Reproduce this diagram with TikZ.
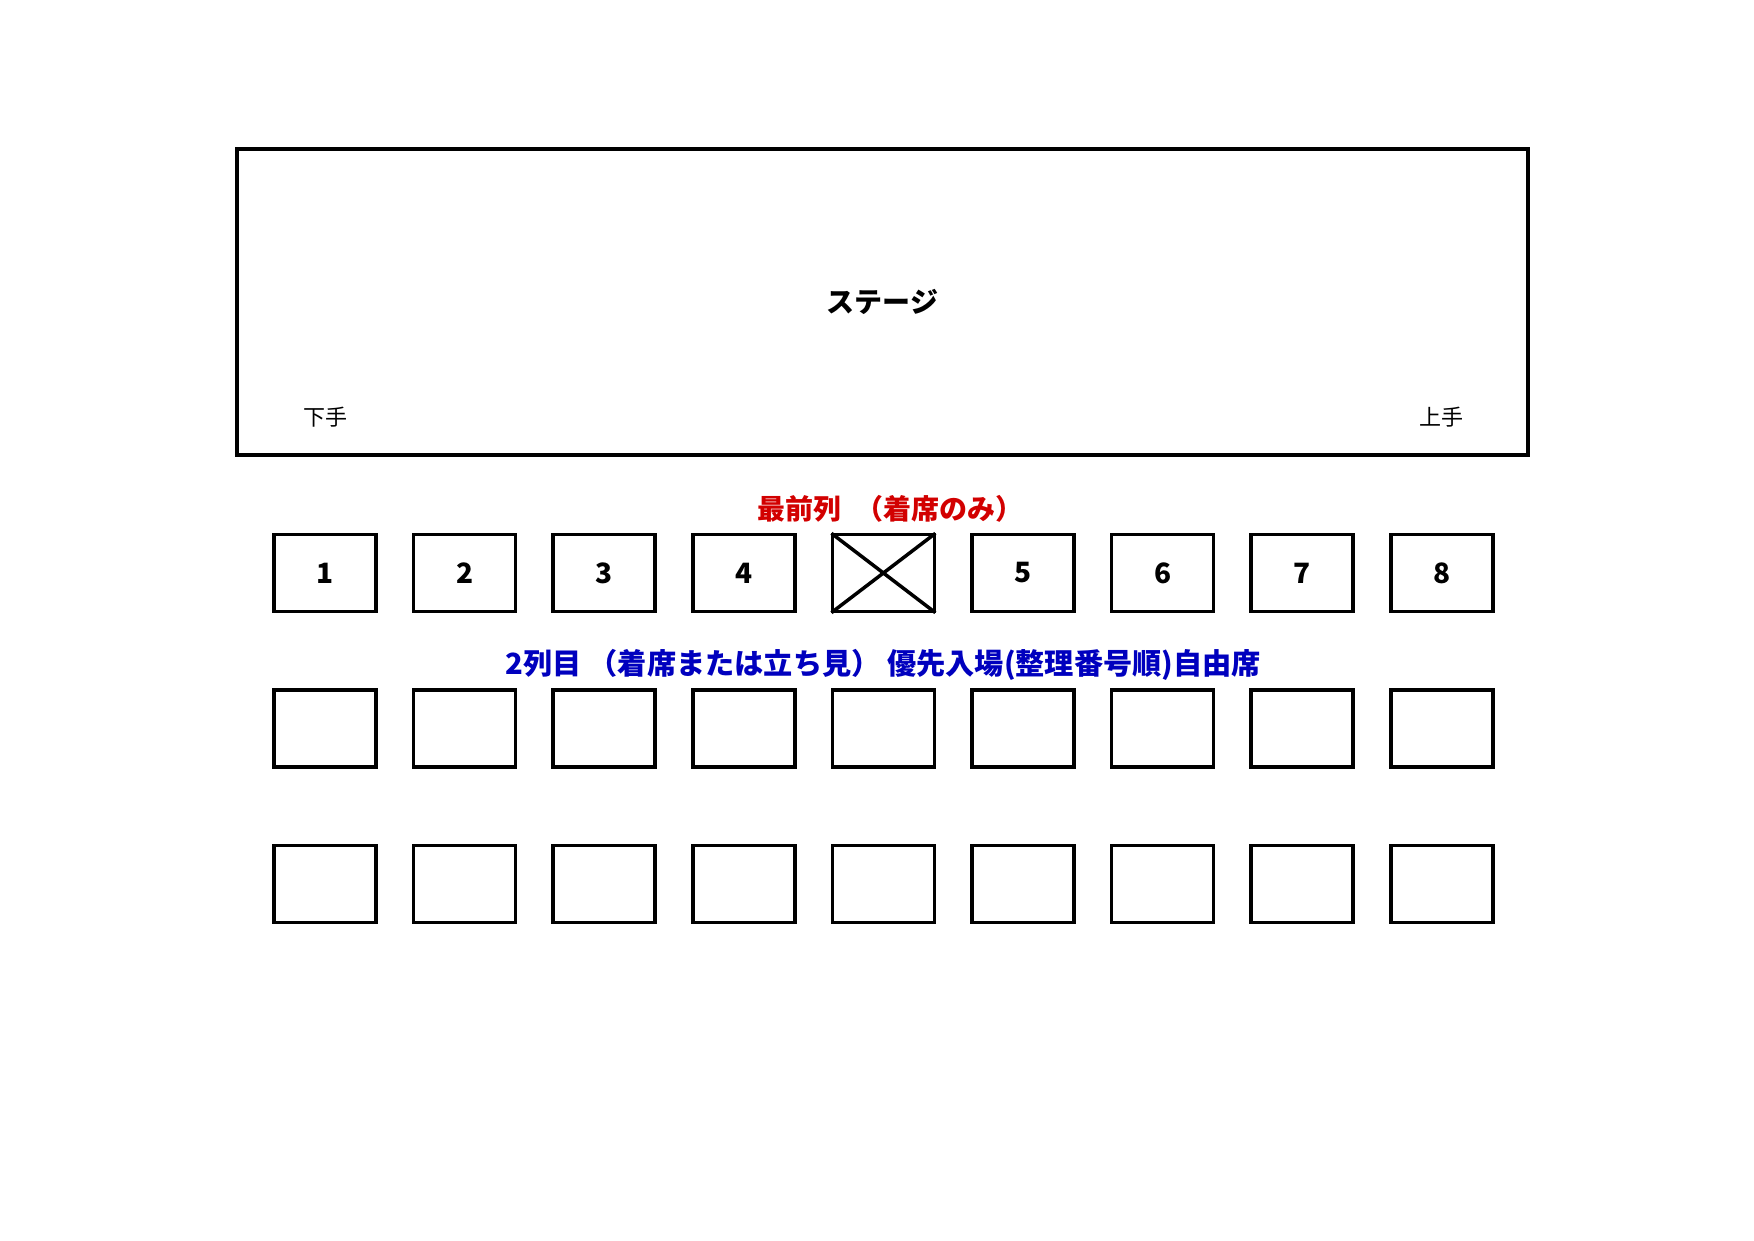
\documentclass[tikz,border=0pt]{standalone}
\usepackage{fontspec}
\setmainfont{Noto Sans CJK JP}
\definecolor{frontred}{RGB}{210,0,0}
\definecolor{secondblue}{RGB}{0,0,190}

\begin{document}
\begin{tikzpicture}
	[x=1pt, y=1pt, node distance={139.6pt},
	seat/.style = {draw, line width=3.5pt, minimum width=102pt, minimum height=77pt, inner sep=0pt, font=\fontsize{28}{28}\bfseries},
	stage/.style = {draw, line width=4pt, minimum width=1291pt, minimum height=306pt, font=\fontsize{28}{28}\bfseries},
	side/.style = {font=\fontsize{22}{22}\selectfont},
	rowlabel/.style = {font=\fontsize{28}{28}\bfseries}]
	\useasboundingbox (0,0) rectangle (1754,-1241);
	\node[stage] (stage) at (882.5,-302) {ステージ};

	% front row
	\node[seat] (f1) at (325,-573) {1};
	\node[seat] (f2) [right of = f1] {2};
	\node[seat] (f3) [right of = f2] {3};
	\node[seat] (f4) [right of = f3] {4};
	\node[seat] (fx) [right of = f4] {};
	\node[seat] (f5) [right of = fx] {5};
	\node[seat] (f6) [right of = f5] {6};
	\node[seat] (f7) [right of = f6] {7};
	\node[seat] (f8) [right of = f7] {8};
	\draw[line width=3.5pt, shorten >=1pt, shorten <=1pt] (fx.north west) -- (fx.south east);
	\draw[line width=3.5pt, shorten >=1pt, shorten <=1pt] (fx.north east) -- (fx.south west);

	% second row
	\node[seat] (s1) [below of = f1, node distance=155.5pt] {};
	\node[seat] (s2) [right of = s1] {};
	\node[seat] (s3) [right of = s2] {};
	\node[seat] (s4) [right of = s3] {};
	\node[seat] (s5) [right of = s4] {};
	\node[seat] (s6) [right of = s5] {};
	\node[seat] (s7) [right of = s6] {};
	\node[seat] (s8) [right of = s7] {};
	\node[seat] (s9) [right of = s8] {};

	% third row
	\node[seat] (t1) [below of = s1, node distance=155.5pt] {};
	\node[seat] (t2) [right of = t1] {};
	\node[seat] (t3) [right of = t2] {};
	\node[seat] (t4) [right of = t3] {};
	\node[seat] (t5) [right of = t4] {};
	\node[seat] (t6) [right of = t5] {};
	\node[seat] (t7) [right of = t6] {};
	\node[seat] (t8) [right of = t7] {};
	\node[seat] (t9) [right of = t8] {};

	\node[side] (shimote) [above of = f1, node distance=156pt] {下手};
	\node[side] (kamite) [above of = f8, node distance=156pt] {上手};
	\node[rowlabel, text=frontred, xshift=7pt] (frontlabel) [above of = fx, node distance=64pt] {最前列\hspace{0.5em}（着席のみ）};
	\node[rowlabel, text=secondblue, font=\fontsize{29.2}{30}\bfseries] (secondlabel) [above of = s5, node distance=64pt] {2列目\ （着席または立ち見）\ 優先入場(整理番号順)自由席};
\end{tikzpicture}
\end{document}
